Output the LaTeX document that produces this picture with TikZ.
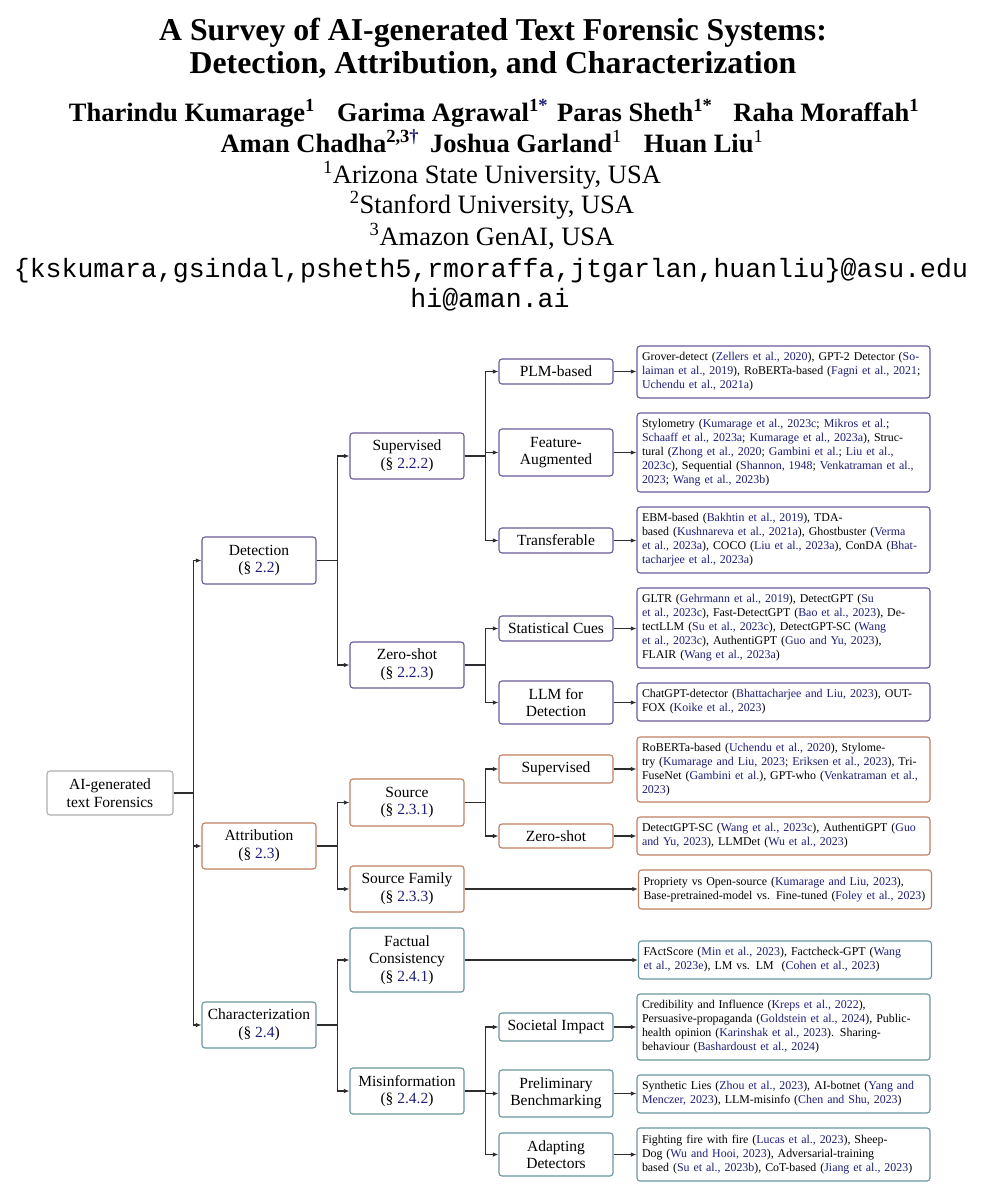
\documentclass[tikz,border=0pt]{standalone}
\usepackage{fontspec}
\setmainfont{Liberation Serif}
\setmonofont{Liberation Mono}
\usetikzlibrary{arrows.meta}
\definecolor{detc}{RGB}{105,90,155}
\definecolor{attc}{RGB}{190,128,98}
\definecolor{chac}{RGB}{105,150,160}
\definecolor{rootc}{RGB}{175,175,175}
\definecolor{citec}{RGB}{30,30,120}
\definecolor{linec}{RGB}{45,45,45}
\newcommand{\refc}[1]{\textcolor{citec}{#1}}
\begin{document}
\begin{tikzpicture}[x=1pt,y=-1pt,
  box/.style={draw, rounded corners=3pt, line width=1.1pt, fill=white, align=center,
    minimum width=114pt, inner xsep=2pt, inner ysep=2pt,
    font=\fontsize{15.5}{17.5}\selectfont},
  rootbox/.style={box, draw=rootc, minimum width=126pt},
  detbox/.style={box, draw=detc},
  attbox/.style={box, draw=attc},
  chabox/.style={box, draw=chac},
  leaf/.style={draw, rounded corners=3pt, line width=1.1pt, fill=white, align=left,
    text width=283pt, inner xsep=5pt, inner ysep=2pt,
    font=\fontsize{11.9}{14}\selectfont},
  detleaf/.style={leaf, draw=detc},
  attleaf/.style={leaf, draw=attc},
  chaleaf/.style={leaf, draw=chac},
  arr/.style={draw=linec, line width=1.1pt, -{Latex[length=5.5pt,width=4.5pt]}},
  titlef/.style={anchor=base, font=\fontsize{31.8}{36}\selectfont\bfseries},
  authf/.style={anchor=base, font=\fontsize{26.5}{32}\selectfont\bfseries},
  afff/.style={anchor=base, font=\fontsize{26.5}{32}\selectfont},
  mailf/.style={anchor=base, font=\fontsize{26.5}{32}\selectfont\ttfamily}
]
\useasboundingbox[fill=white] (0,0) rectangle (985,1200);

% ---------- header ----------
\node[titlef] (t1) at (493,40) {A Survey of AI-generated Text Forensic Systems:};
\node[titlef] (t2) at (493,73) {Detection, Attribution, and Characterization};
\node[authf] (a1) at (494,121) {Tharindu Kumarage\textsuperscript{1}\hspace{22pt}Garima Agrawal\textsuperscript{1\textcolor{citec}{*}}\hspace{9pt}Paras Sheth\textsuperscript{1*}\hspace{21pt}Raha Moraffah\textsuperscript{1}};
\node[authf] (a2) at (492,152) {Aman Chadha\textsuperscript{2,3\textcolor{citec}{\textdagger}}\hspace{11pt}Joshua Garland\textsuperscript{\mdseries 1}\hspace{22pt}Huan Liu\textsuperscript{\mdseries 1}};
\node[afff] (f1) at (492,183) {\textsuperscript{1}Arizona State University, USA};
\node[afff] (f2) at (492,213) {\textsuperscript{2}Stanford University, USA};
\node[afff] (f3) at (492,245) {\textsuperscript{3}Amazon GenAI, USA};
\node[mailf] (m1) at (491,277) {\{kskumara,gsindal,psheth5,rmoraffa,jtgarlan,huanliu\}@asu.edu};
\node[mailf] (m2) at (490,307) {hi@aman.ai};

% ---------- tree nodes ----------
\node[rootbox, minimum height=44pt] (root) at (110,793) {AI-generated\\text Forensics};

\node[detbox, minimum height=47pt] (det) at (259,560.5) {Detection\\(§ \refc{2.2})};
\node[attbox, minimum height=46pt] (att) at (259,846) {Attribution\\(§ \refc{2.3})};
\node[chabox, minimum height=46pt] (cha) at (259,1025) {Characterization\\(§ \refc{2.4})};

\node[detbox, minimum height=46pt] (sup) at (407,456) {Supervised\\(§ \refc{2.2.2})};
\node[detbox, minimum height=46pt] (zs) at (407,665) {Zero-shot\\(§ \refc{2.2.3})};
\node[attbox, minimum height=47pt] (src) at (407,802.5) {Source\\(§ \refc{2.3.1})};
\node[attbox, minimum height=46pt] (srcf) at (407,889) {Source Family\\(§ \refc{2.3.3})};
\node[chabox, minimum height=64pt] (fact) at (407,960) {Factual\\Consistency\\(§ \refc{2.4.1})};
\node[chabox, minimum height=46pt] (mis) at (407,1091) {Misinformation\\(§ \refc{2.4.2})};

\node[detbox, minimum height=25pt] (plm) at (556,371.5) {PLM-based};
\node[detbox, minimum height=47pt] (feat) at (556,452.5) {Feature-\\Augmented};
\node[detbox, minimum height=25pt] (trans) at (556,540.5) {Transferable};
\node[detbox, minimum height=25pt] (stat) at (556,628.5) {Statistical Cues};
\node[detbox, minimum height=43pt] (llmd) at (556,702.5) {LLM for\\Detection};
\node[attbox, minimum height=28pt] (asup) at (556,769) {Supervised};
\node[attbox, minimum height=24pt] (azs) at (556,836) {Zero-shot};
\node[chabox, minimum height=28pt] (soc) at (556,1027) {Societal Impact};
\node[chabox, minimum height=47pt] (prel) at (556,1093.5) {Preliminary\\Benchmarking};
\node[chabox, minimum height=43pt] (adapt) at (556,1154.5) {Adapting\\Detectors};

% ---------- leaves ----------
\node[detleaf, minimum height=52pt] (l1) at (783.5,372) {Grover-detect (\refc{Zellers et al., 2020}), GPT-2 Detector (\refc{So-}\\
\refc{laiman et al., 2019}), RoBERTa-based (\refc{Fagni et al., 2021};\\
\refc{Uchendu et al., 2021a})};
\node[detleaf, minimum height=79pt] (l2) at (783.5,452.5) {Stylometry (\refc{Kumarage et al., 2023c}; \refc{Mikros et al.};\\
\refc{Schaaff et al., 2023a}; \refc{Kumarage et al., 2023a}), Struc-\\
tural (\refc{Zhong et al., 2020}; \refc{Gambini et al.}; \refc{Liu et al.,}\\
\refc{2023c}), Sequential (\refc{Shannon, 1948}; \refc{Venkatraman et al.,}\\
\refc{2023}; \refc{Wang et al., 2023b})};
\node[detleaf, minimum height=66pt] (l3) at (783.5,540) {EBM-based (\refc{Bakhtin et al., 2019}), TDA-\\
based (\refc{Kushnareva et al., 2021a}), Ghostbuster (\refc{Verma}\\
\refc{et al., 2023a}), COCO (\refc{Liu et al., 2023a}), ConDA (\refc{Bhat-}\\
\refc{tacharjee et al., 2023a})};
\node[detleaf, minimum height=80pt] (l4) at (783.5,628) {GLTR (\refc{Gehrmann et al., 2019}), DetectGPT (\refc{Su}\\
\refc{et al., 2023c}), Fast-DetectGPT (\refc{Bao et al., 2023}), De-\\
tectLLM (\refc{Su et al., 2023c}), DetectGPT-SC (\refc{Wang}\\
\refc{et al., 2023c}), AuthentiGPT (\refc{Guo and Yu, 2023}),\\
FLAIR (\refc{Wang et al., 2023a})};
\node[detleaf, minimum height=38pt] (l5) at (783.5,702) {ChatGPT-detector (\refc{Bhattacharjee and Liu, 2023}), OUT-\\
FOX (\refc{Koike et al., 2023})};
\node[attleaf, minimum height=65pt] (l6) at (783.5,769.5) {RoBERTa-based (\refc{Uchendu et al., 2020}), Stylome-\\
try (\refc{Kumarage and Liu, 2023}; \refc{Eriksen et al., 2023}), Tri-\\
FuseNet (\refc{Gambini et al.}), GPT-who (\refc{Venkatraman et al.,}\\
\refc{2023})};
\node[attleaf, minimum height=38pt] (l7) at (783.5,836) {DetectGPT-SC (\refc{Wang et al., 2023c}), AuthentiGPT (\refc{Guo}\\
\refc{and Yu, 2023}), LLMDet (\refc{Wu et al., 2023})};
\node[attleaf, minimum height=39pt] (l8) at (785,889.5) {Propriety vs Open-source (\refc{Kumarage and Liu, 2023}),\\
Base-pretrained-model vs. Fine-tuned (\refc{Foley et al., 2023})};
\node[chaleaf, minimum height=38pt] (l9) at (785,960) {FActScore (\refc{Min et al., 2023}), Factcheck-GPT (\refc{Wang}\\
\refc{et al., 2023e}), LM vs. LM\ \ (\refc{Cohen et al., 2023})};
\node[chaleaf, minimum height=66pt] (l10) at (783.5,1027) {Credibility and Influence (\refc{Kreps et al., 2022}),\\
Persuasive-propaganda (\refc{Goldstein et al., 2024}), Public-\\
health opinion (\refc{Karinshak et al., 2023}). Sharing-\\
behaviour (\refc{Bashardoust et al., 2024})};
\node[chaleaf, minimum height=38pt] (l11) at (783.5,1094) {Synthetic Lies (\refc{Zhou et al., 2023}), AI-botnet (\refc{Yang and}\\
\refc{Menczer, 2023}), LLM-misinfo (\refc{Chen and Shu, 2023})};
\node[chaleaf, minimum height=53pt] (l12) at (783.5,1154.5) {Fighting fire with fire (\refc{Lucas et al., 2023}), Sheep-\\
Dog (\refc{Wu and Hooi, 2023}), Adversarial-training\\
based (\refc{Su et al., 2023b}), CoT-based (\refc{Jiang et al., 2023})};

% ---------- connectors ----------
\foreach \c in {det,att,cha} \draw[arr] (root.east) -- ++(20,0) |- (\c.west);
\foreach \c in {sup,zs} \draw[arr] (det.east) -- ++(21,0) |- (\c.west);
\foreach \c in {src,srcf} \draw[arr] (att.east) -- ++(21,0) |- (\c.west);
\foreach \c in {fact,mis} \draw[arr] (cha.east) -- ++(21,0) |- (\c.west);
\foreach \c in {plm,feat,trans} \draw[arr] (sup.east) -- ++(21,0) |- (\c.west);
\foreach \c in {stat,llmd} \draw[arr] (zs.east) -- ++(21,0) |- (\c.west);
\foreach \c in {asup,azs} \draw[arr] (src.east) -- ++(21,0) |- (\c.west);
\foreach \c in {soc,prel,adapt} \draw[arr] (mis.east) -- ++(21,0) |- (\c.west);
\draw[arr] (plm.east) -- (plm.east -| l1.west);
\draw[arr] (feat.east) -- (feat.east -| l2.west);
\draw[arr] (trans.east) -- (trans.east -| l3.west);
\draw[arr] (stat.east) -- (stat.east -| l4.west);
\draw[arr] (llmd.east) -- (llmd.east -| l5.west);
\draw[arr] (asup.east) -- (asup.east -| l6.west);
\draw[arr] (azs.east) -- (azs.east -| l7.west);
\draw[arr] (srcf.east) -- (srcf.east -| l8.west);
\draw[arr] (fact.east) -- (fact.east -| l9.west);
\draw[arr] (soc.east) -- (soc.east -| l10.west);
\draw[arr] (prel.east) -- (prel.east -| l11.west);
\draw[arr] (adapt.east) -- (adapt.east -| l12.west);
\end{tikzpicture}
\end{document}
